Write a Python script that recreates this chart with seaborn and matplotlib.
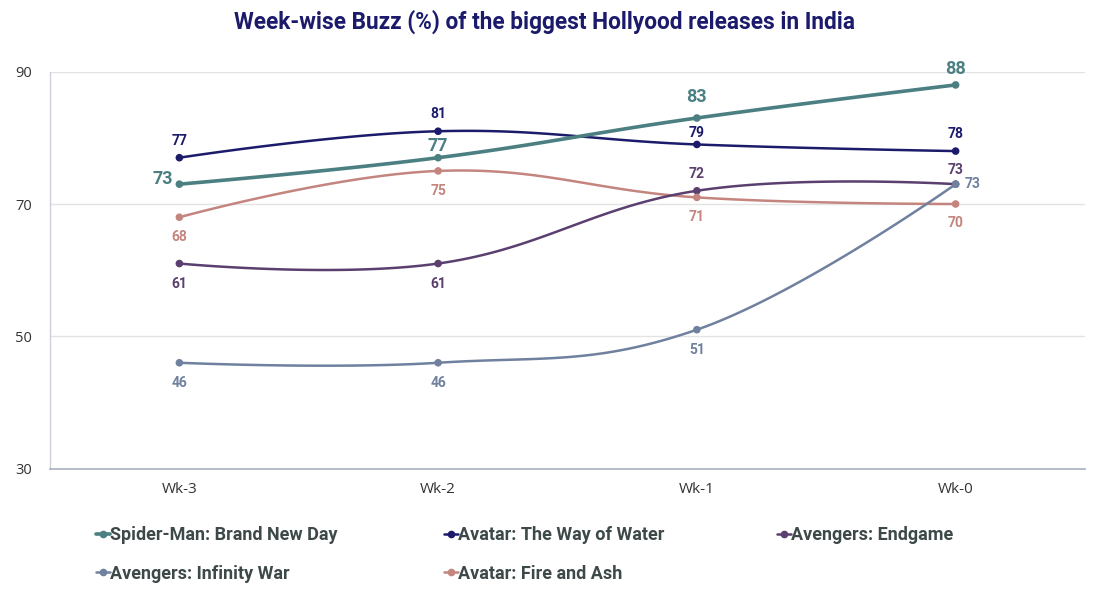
import numpy as np
import pandas as pd
import matplotlib
matplotlib.use("Agg")
import matplotlib.pyplot as plt
import seaborn as sns
from matplotlib.lines import Line2D

weeks = ["Wk-3", "Wk-2", "Wk-1", "Wk-0"]
series_names = ["Spider-Man: Brand New Day", "Avatar: The Way of Water", "Avengers: Endgame",
                "Avengers: Infinity War", "Avatar: Fire and Ash"]
spiderman = [73, 77, 83, 88]
avatar_wow = [77, 81, 79, 78]
endgame = [61, 61, 72, 73]
infinity = [46, 46, 51, 73]
fire_ash = [68, 75, 71, 70]
values = [spiderman, avatar_wow, endgame, infinity, fire_ash]
yticks = [30, 50, 70, 90]

colors = ["#4b7f81", "#1c1b6b", "#5a3f6f", "#6f819e", "#c4857f"]
widths = [2.6, 1.8, 1.8, 1.8, 1.8]
U, D, R, L = "up", "down", "right", "left"
placements = [
    [L, U, U, U],
    [U, U, U, U],
    [D, D, U, U],
    [D, D, D, R],
    [D, D, D, D],
]
# vertical gap (px) between point and label, per series / point
gaps = [
    [0, 3, 12, 7],
    [10, 10, 4, 10],
    [13, 13, 10, 7],
    [13, 13, 13, 0],
    [13, 13, 13, 12],
]

BOLD = ["Roboto", "DejaVu Sans"]

sns.set_theme(style="white")
plt.rcParams['font.family'] = ['Open Sans', 'DejaVu Sans']

df = pd.DataFrame({
    "week": np.tile(np.arange(len(weeks)), len(series_names)),
    "buzz": np.concatenate(values),
    "film": np.repeat(series_names, len(weeks)),
})

fig = plt.figure(figsize=(11.1, 5.97), dpi=100)
ax = fig.add_axes([50/1110, 1-468.6/597, 1035/1110, (468.6-71.7)/597])


def spline_path(xs, ys, smoothing=1.5, n=40):
    xs = np.asarray(xs, float); ys = np.asarray(ys, float)
    m = len(xs)
    lc = [(xs[i], ys[i]) for i in range(m)]
    rc = [(xs[i], ys[i]) for i in range(m)]
    denom = smoothing + 1
    for i in range(1, m - 1):
        px, py = xs[i], ys[i]
        lx, ly = xs[i-1], ys[i-1]
        nx, ny = xs[i+1], ys[i+1]
        lcx = (smoothing * px + lx) / denom
        lcy = (smoothing * py + ly) / denom
        rcx = (smoothing * px + nx) / denom
        rcy = (smoothing * py + ny) / denom
        corr = (rcy - lcy) * (rcx - px) / (rcx - lcx) + py - rcy
        lc[i] = (lcx, lcy + corr); rc[i] = (rcx, rcy + corr)
    outx, outy = [xs[0]], [ys[0]]
    t = np.linspace(0, 1, n)[1:]
    for i in range(1, m):
        p0 = np.array([xs[i-1], ys[i-1]]); p1 = np.array(rc[i-1])
        p2 = np.array(lc[i]); p3 = np.array([xs[i], ys[i]])
        b = ((1-t)**3)[:, None]*p0 + (3*(1-t)**2*t)[:, None]*p1 + (3*(1-t)*t**2)[:, None]*p2 + (t**3)[:, None]*p3
        outx.extend(b[:, 0]); outy.extend(b[:, 1])
    return outx, outy

palette = dict(zip(series_names, colors))
for k, name in enumerate(series_names):
    sub = df[df.film == name]
    sx, sy = spline_path(sub.week.values, sub.buzz.values)
    ax.plot(sx, sy, color=colors[k], lw=widths[k], zorder=3 + (5 - k) * 0.1, solid_capstyle='round')

sns.scatterplot(data=df, x="week", y="buzz", hue="film", palette=palette, s=30,
                edgecolor="none", legend=False, ax=ax, zorder=5)

px2pt = 72 / 100
for k, name in enumerate(series_names):
    big = (k == 0)
    fs = 13 if big else 10
    for i, v in enumerate(values[k]):
        p = placements[k][i]
        g = gaps[k][i]
        if p == U:
            off, ha, va = (0, g * px2pt), "center", "bottom"
        elif p == D:
            off, ha, va = (0, -g * px2pt), "center", "top"
        elif p == R:
            off, ha, va = (9 * px2pt, 0), "left", "center"
        else:
            off, ha, va = (-6 * px2pt, 5 * px2pt), "right", "center"
        ax.annotate(str(v), (i, v), xytext=off, textcoords="offset points", ha=ha, va=va,
                    fontsize=fs, fontweight="bold", color=colors[k], family=BOLD, zorder=6)

ax.set_xlim(-0.5, len(weeks) - 0.5)
ax.set_ylim(30, 90)
ax.set_xticks(range(len(weeks)))
ax.set_xticklabels(weeks)
ax.set_yticks(yticks)
ax.set_xlabel(""); ax.set_ylabel("")
ax.grid(axis="y", color="#e3e3e3", lw=1)
ax.set_axisbelow(True)
for s in ["top", "right"]:
    ax.spines[s].set_visible(False)
ax.spines["left"].set_color("#ccd0d8"); ax.spines["left"].set_linewidth(1)
ax.spines["bottom"].set_color("#a8b2c0"); ax.spines["bottom"].set_linewidth(1.2)
ax.tick_params(axis="y", length=5, width=1, color="#ccd0d8", labelsize=10.5, labelcolor="#333333", pad=8)
ax.tick_params(axis="x", length=0, labelsize=11, labelcolor="#333333", pad=10)

fig.text(545/1110, 1 - 22/597, "Week-wise Buzz (%) of the biggest Hollyood releases in India",
         ha="center", va="center", fontsize=16.3, fontweight="bold", color="#1c1b6b", family=BOLD)

# legend laid out row-wise in three columns
col_x = [96, 444, 777]
order = [[0, 3], [1, 4], [2]]
for c, idxs in enumerate(order):
    hs = [Line2D([0], [0], color=colors[j], lw=widths[j], marker="o", markersize=4.5) for j in idxs]
    leg = fig.legend(hs, [series_names[j] for j in idxs], loc="upper left",
                     bbox_to_anchor=(col_x[c]/1110, 1 - 526/597), frameon=False,
                     handlelength=0.8, handletextpad=0.0, labelspacing=1.15, borderpad=0,
                     borderaxespad=0, prop={"family": BOLD, "weight": "bold", "size": 13})
    for t in leg.get_texts():
        t.set_color("#3d4848")

fig.savefig("out.png", dpi=100)
